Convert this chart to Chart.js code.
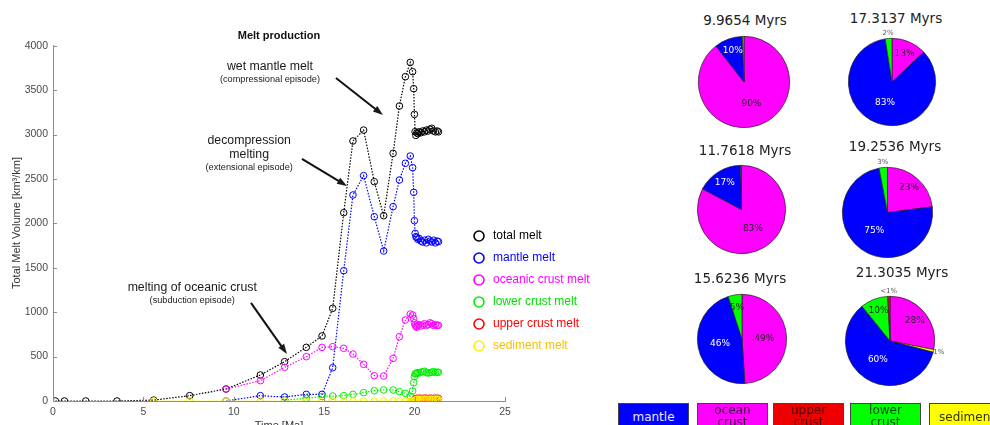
<!DOCTYPE html>
<html>
<head>
<meta charset="utf-8">
<script src="https://cdn.jsdelivr.net/npm/chart.js@4.4.1/dist/chart.umd.min.js"></script>
<style>
  body { margin:0; width:990px; height:425px; overflow:hidden; background:#fff; position:relative; font-family:"DejaVu Sans", sans-serif; }
  canvas { position:absolute; }
  .ptitle { position:absolute; width:140px; text-align:center; font-size:13.5px; color:#222; line-height:16px; }
  .key { position:absolute; top:403px; width:71px; height:30px; box-sizing:border-box; border:1px solid #444; text-align:center; font-size:12px; line-height:12px; }
</style>
</head>
<body>
<canvas id="melt" width="600" height="425" style="left:0;top:0"></canvas>
<div id="pies"></div>
<div id="keys"></div>
<script>
// ---- melt production time series (Ma, km^3/km) ----
var times = [0.13, 0.63, 1.81, 3.54,
  5.57, 7.56, 9.57, 11.47, 12.81, 14.01, 14.88, 15.47, 16.08, 16.59, 17.18, 17.77, 18.29, 18.81, 19.16, 19.49, 19.76, 19.89, 19.95, 19.99, 20.03,
  20.07, 20.12, 20.18, 20.25, 20.35, 20.45, 20.55, 20.65, 20.75, 20.85, 20.95, 21.05, 21.15, 21.25, 21.32];

var totalMelt = [0, 0, 0, 0,
  10, 60, 135, 293, 443, 604, 732, 1043, 2120, 2927, 3050, 2469, 2086, 2788, 3321, 3651, 3812, 3707, 3516, 3227, 3032,
  2990, 3020, 3010, 3030, 3020, 3040, 3030, 3050, 3040, 3060, 3070, 3040, 3030, 3040, 3030];

var mantleMelt = [null, null, null, null,
  null, null, 0, 60, 45, 75, 75, 375, 1467, 2319, 2537, 2075, 1689, 2188, 2488, 2676, 2758, 2627, 2349, 2030, 1887,
  1850, 1840, 1820, 1830, 1800, 1790, 1810, 1780, 1820, 1800, 1790, 1810, 1780, 1800, 1794];

var oceanCrustMelt = [null, null, null, null,
  null, null, 135, 229, 379, 499, 604, 612, 593, 529, 413, 285, 281, 480, 724, 912, 979, 968, 927, 880, 856,
  840, 830, 850, 860, 845, 855, 870, 850, 860, 880, 870, 850, 860, 850, 852];

var lowerCrustMelt = [null, null, null, null,
  null, null, null, null, 10, 30, 50, 56, 60, 75, 94, 116, 124, 124, 105, 86, 55, 113, 206, 274, 304,
  310, 315, 320, 315, 325, 330, 335, 320, 315, 320, 325, 330, 320, 325, 323];

var upperCrustMelt = [null, null, null, null,
  null, null, null, null, null, null, null, null, null, null, null, null, null, null, null, null, null, null, 5, 10, 20,
  25, 30, 28, 32, 30, 27, 33, 30, 28, 31, 30, 29, 32, 30, 30];

var sedimentMelt = [null, null, null, null,
  0, 0, 0, 0, 0, 0, 0, 0, 0, 0, 0, 0, 0, 0, 0, 0, 0, 0, 0, 5, 10,
  15, 20, 18, 22, 20, 17, 23, 20, 18, 21, 20, 19, 22, 20, 20];

var seriesNames = ['total melt', 'mantle melt', 'oceanic crust melt', 'lower crust melt', 'upper crust melt', 'sediment melt'];
var seriesValues = [totalMelt, mantleMelt, oceanCrustMelt, lowerCrustMelt, upperCrustMelt, sedimentMelt];
var seriesColors = ['#000000', '#0000ff', '#ff00ff', '#00ee00', '#ff0000', '#ffee00'];
var legendTextColors = ['#000000', '#0000ff', '#ff00ff', '#00dd00', '#ff0000', '#f5c000'];

var xTicks = [0, 5, 10, 15, 20, 25];
var yTicks = [0, 500, 1000, 1500, 2000, 2500, 3000, 3500, 4000];

// ---- pie snapshots ----
var pieTimes = ['9.9654 Myrs', '11.7618 Myrs', '15.6236 Myrs', '17.3137 Myrs', '19.2536 Myrs', '21.3035 Myrs'];
// clockwise from 12 o'clock: ocean crust, sediment, mantle, lower crust, upper crust
var pieSources = ['ocean crust', 'sediment', 'mantle', 'lower crust', 'upper crust'];
var pieColors = ['#ff00ff', '#ffff00', '#0000ff', '#00ff00', '#ff0000'];
var pieShares = [
  [90, 0, 10, 0.6, 0],
  [83, 0, 17, 0.3, 0],
  [49, 0, 46, 5, 0],
  [13, 0, 84.5, 2.5, 0],
  [23, 0, 74, 3, 0],
  [28, 1, 60, 10, 0.8]
];
var pieLabels = [
  ['90%', '', '10%', '', ''],
  ['83%', '', '17%', '', ''],
  ['49%', '', '46%', '5%', ''],
  ['13%', '', '83%', '2%', ''],
  ['23%', '', '75%', '3%', ''],
  ['28%', '1%', '60%', '10%', '<1%']
];

var keyNames = [['mantle'], ['ocean', 'crust'], ['upper', 'crust'], ['lower', 'crust'], ['sediment']];
var keyColors = ['#0000ff', '#ff00ff', '#ee0000', '#00ff00', '#ffff00'];
var keyText = ['#e8e8ff', '#3a003a', '#4a0000', '#004400', '#333300'];

Chart.defaults.font.family = '"Liberation Sans", Arial, sans-serif';

// annotations on the melt plot, anchored in data units
var notes = [
  { big: ['wet mantle melt'], small: '(compressional episode)', at: [12.0, 3762], from: [15.65, 3637], to: [18.25, 3221] },
  { big: ['decompression', 'melting'], small: '(extensional episode)', at: [10.85, 2928], from: [13.77, 2725], to: [16.26, 2421] },
  { big: ['melting of oceanic crust'], small: '(subduction episode)', at: [7.7, 1273], from: [10.95, 1104], to: [12.94, 529] }
];

function arrow(ctx, x1, y1, x2, y2) {
  var a = Math.atan2(y2 - y1, x2 - x1), L = 10, W = 3.5;
  ctx.beginPath();
  ctx.moveTo(x1, y1);
  ctx.lineTo(x2 - L * 0.6 * Math.cos(a), y2 - L * 0.6 * Math.sin(a));
  ctx.stroke();
  ctx.beginPath();
  ctx.moveTo(x2, y2);
  ctx.lineTo(x2 - L * Math.cos(a) + W * Math.sin(a), y2 - L * Math.sin(a) - W * Math.cos(a));
  ctx.lineTo(x2 - L * Math.cos(a) - W * Math.sin(a), y2 - L * Math.sin(a) + W * Math.cos(a));
  ctx.closePath();
  ctx.fill();
}

var meltDecor = {
  id: 'meltDecor',
  afterDraw: function(chart) {
    var ctx = chart.ctx, xs = chart.scales.x, ys = chart.scales.y, a = chart.chartArea;
    ctx.save();
    // inward ticks
    ctx.strokeStyle = '#8c8c8c';
    ctx.lineWidth = 1;
    xTicks.forEach(function(v) {
      var px = Math.round(xs.getPixelForValue(v)) + 0.5;
      ctx.beginPath(); ctx.moveTo(px, a.bottom); ctx.lineTo(px, a.bottom - 4); ctx.stroke();
    });
    yTicks.forEach(function(v) {
      var py = Math.round(ys.getPixelForValue(v)) + 0.5;
      ctx.beginPath(); ctx.moveTo(a.left, py); ctx.lineTo(a.left + 4, py); ctx.stroke();
    });
    // title + axis titles
    ctx.fillStyle = '#111';
    ctx.textAlign = 'center';
    ctx.textBaseline = 'middle';
    ctx.font = 'bold 11px "Liberation Sans", Arial';
    ctx.fillText('Melt production', 279, 36);
    ctx.fillStyle = '#333';
    ctx.font = '11px "Liberation Sans", Arial';
    ctx.textBaseline = 'top';
    ctx.fillText('Time [Ma]', (a.left + a.right) / 2, 420);
    ctx.save();
    ctx.translate(17, 223);
    ctx.rotate(-Math.PI / 2);
    ctx.textBaseline = 'middle';
    ctx.fillText('Total Melt Volume [km\u00b3/km]', 0, 0);
    ctx.restore();
    // annotations
    ctx.fillStyle = '#1a1a1a';
    ctx.strokeStyle = '#111';
    ctx.lineWidth = 2;
    notes.forEach(function(n) {
      var tx = xs.getPixelForValue(n.at[0]), ty = ys.getPixelForValue(n.at[1]);
      ctx.textBaseline = 'middle';
      ctx.font = '12.3px "Liberation Sans", Arial';
      n.big.forEach(function(s, i) { ctx.fillText(s, tx, ty + i * 14); });
      ctx.font = '9.2px "Liberation Sans", Arial';
      ctx.fillText(n.small, tx, ty + (n.big.length - 1) * 14 + 12.5);
      arrow(ctx, xs.getPixelForValue(n.from[0]), ys.getPixelForValue(n.from[1]),
                 xs.getPixelForValue(n.to[0]), ys.getPixelForValue(n.to[1]));
    });
    // legend
    ctx.textAlign = 'left';
    ctx.font = '12px "Liberation Sans", Arial';
    ctx.lineWidth = 1.6;
    seriesNames.forEach(function(name, i) {
      var ly = 236 + i * 22;
      ctx.strokeStyle = seriesColors[i];
      ctx.beginPath(); ctx.arc(479, ly, 5, 0, Math.PI * 2); ctx.stroke();
      ctx.fillStyle = legendTextColors[i];
      ctx.fillText(name, 493, ly);
    });
    ctx.restore();
  }
};

var datasets = seriesNames.map(function(name, i) {
  var pts = [];
  times.forEach(function(t, k) {
    if (seriesValues[i][k] !== null) pts.push({ x: t, y: seriesValues[i][k] });
  });
  return {
    label: name,
    data: pts,
    borderColor: seriesColors[i],
    borderWidth: 1.2,
    borderDash: [1.5, 1.5],
    pointStyle: 'circle',
    pointRadius: 3.3,
    pointBorderWidth: 1,
    pointBorderColor: seriesColors[i],
    pointBackgroundColor: 'rgba(0,0,0,0)',
    tension: 0,
    order: seriesNames.length - i
  };
});

function plainTick(v) { return String(v); }

new Chart(document.getElementById('melt').getContext('2d'), {
  type: 'line',
  data: { datasets: datasets },
  options: {
    responsive: false,
    animation: false,
    events: [],
    layout: { padding: { top: 45.7, right: 95, left: 0, bottom: 0 } },
    plugins: { legend: { display: false }, tooltip: { enabled: false } },
    scales: {
      x: {
        type: 'linear', min: 0, max: 25,
        afterFit: function(s) { s.height = 24; },
        afterBuildTicks: function(s) { s.ticks = xTicks.map(function(v) { return { value: v }; }); },
        grid: { display: false, drawTicks: false },
        border: { display: true, color: '#8c8c8c', width: 1 },
        ticks: { padding: 5, color: '#4a4a4a', font: { size: 10.5 }, callback: plainTick }
      },
      y: {
        min: 0, max: 4000,
        afterFit: function(s) { s.width = 53; },
        afterBuildTicks: function(s) { s.ticks = yTicks.map(function(v) { return { value: v }; }); },
        grid: { display: false, drawTicks: false },
        border: { display: true, color: '#8c8c8c', width: 1 },
        ticks: { padding: 5, color: '#4a4a4a', font: { size: 10.5 }, callback: plainTick }
      }
    }
  },
  plugins: [meltDecor]
});

// ---- pies ----
var sliceText = {
  id: 'sliceText',
  afterDatasetsDraw: function(chart) {
    var ctx = chart.ctx, meta = chart.getDatasetMeta(0), texts = chart.data.datasets[0].pctText;
    ctx.save();
    ctx.textAlign = 'center';
    ctx.textBaseline = 'middle';
    meta.data.forEach(function(arc, i) {
      var txt = texts[i];
      if (!txt) return;
      var p = arc.circumference / (2 * Math.PI);
      var mid = (arc.startAngle + arc.endAngle) / 2;
      var f = p < 0.04 ? 1.12 : (p < 0.3 ? 0.72 : 0.5);
      var x = arc.x + Math.cos(mid) * arc.outerRadius * f;
      var y = arc.y + Math.sin(mid) * arc.outerRadius * f;
      if (p < 0.04) {
        ctx.font = '7px "DejaVu Sans", sans-serif';
        ctx.fillStyle = '#555';
      } else {
        ctx.font = '9px "DejaVu Sans", sans-serif';
        ctx.fillStyle = pieSources[i] === 'mantle' ? '#ffffff' : '#222222';
      }
      ctx.fillText(txt, x, y);
    });
    ctx.restore();
  }
};

// pie layout: centre x, centre y, radius, title centre x, title centre y
var pieBoxes = [
  [744, 82, 46, 745, 20],
  [741, 209, 44.5, 745, 150],
  [741.5, 339, 45, 740, 278],
  [892, 82, 44, 896, 18],
  [887, 212, 45.5, 895, 146],
  [890, 341, 45, 902, 272]
];

var pieHost = document.getElementById('pies');
pieTimes.forEach(function(title, k) {
  var b = pieBoxes[k], pad = 20, size = Math.round(2 * b[2] + 2 * pad);
  var t = document.createElement('div');
  t.className = 'ptitle';
  t.style.left = (b[3] - 70) + 'px';
  t.style.top = (b[4] - 8) + 'px';
  t.textContent = title;
  pieHost.appendChild(t);
  var c = document.createElement('canvas');
  c.width = size; c.height = size;
  c.style.left = (b[0] - size / 2) + 'px';
  c.style.top = (b[1] - size / 2) + 'px';
  pieHost.appendChild(c);
  new Chart(c.getContext('2d'), {
    type: 'pie',
    data: {
      labels: pieSources,
      datasets: [{
        data: pieShares[k],
        pctText: pieLabels[k],
        backgroundColor: pieColors,
        borderColor: '#222',
        borderWidth: pieShares[k].map(function(v) { return v > 0 ? 0.7 : 0; }),
        hoverOffset: 0,
        offset: 0
      }]
    },
    options: {
      responsive: false,
      animation: false,
      events: [],
      layout: { padding: pad },
      plugins: { legend: { display: false }, tooltip: { enabled: false } }
    },
    plugins: [sliceText]
  });
});

// ---- colour key along the bottom ----
var keyLeft = [618, 697, 773, 850, 929];
var keyHost = document.getElementById('keys');
keyNames.forEach(function(lines, i) {
  var d = document.createElement('div');
  d.className = 'key';
  d.style.left = keyLeft[i] + 'px';
  d.style.background = keyColors[i];
  d.style.color = keyText[i];
  d.style.paddingTop = lines.length === 1 ? '7px' : '0px';
  if (i === keyNames.length - 1) d.style.width = '76px';
  d.innerHTML = lines.join('<br>');
  keyHost.appendChild(d);
});
</script>
</body>
</html>
